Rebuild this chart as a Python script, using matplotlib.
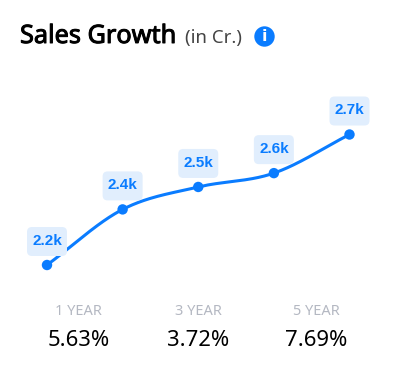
import numpy as np
import matplotlib
matplotlib.use("Agg")
import matplotlib.pyplot as plt
import matplotlib.patheffects as pe
from matplotlib.patches import FancyBboxPatch, Circle

periods = ["1 YEAR", "3 YEAR", "5 YEAR"]
growth = ["5.63%", "3.72%", "7.69%"]
sales = [2200, 2413, 2499, 2552, 2700]
labels = ["2.2k", "2.4k", "2.5k", "2.6k", "2.7k"]

W, H = 399, 380
BLUE = "#0A7CFF"
BOX = "#E1EEFD"
SANS = "Noto Sans"

fig = plt.figure(figsize=(W / 100, H / 100), dpi=100)
fig.patch.set_facecolor("white")


def px_rect(x0, y0, x1, y1):
    return [x0 / W, 1 - y1 / H, (x1 - x0) / W, (y1 - y0) / H]


ax = fig.add_axes(px_rect(47, 134.5, 349.5, 265))
ax.set_xlim(0, len(sales) - 1)
ax.set_ylim(min(sales), max(sales))
ax.axis("off")

# overlay in pixel coordinates for the page furniture
ov = fig.add_axes([0, 0, 1, 1], zorder=3)
ov.set_xlim(0, W)
ov.set_ylim(H, 0)
ov.axis("off")
ov.patch.set_alpha(0)

# monotone cubic through the data
xs = np.arange(len(sales), dtype=float)
ys = np.array(sales, dtype=float)
d = np.diff(ys)
m = np.r_[d[0], (d[:-1] + d[1:]) / 2, d[-1]]
xx, yy = [], []
for i in range(len(xs) - 1):
    t = np.linspace(0, 1, 40)
    h00 = 2 * t**3 - 3 * t**2 + 1
    h10 = t**3 - 2 * t**2 + t
    h01 = -2 * t**3 + 3 * t**2
    h11 = t**3 - t**2
    xx.append(xs[i] + t)
    yy.append(h00 * ys[i] + h10 * m[i] + h01 * ys[i + 1] + h11 * m[i + 1])
ax.plot(np.concatenate(xx), np.concatenate(yy), color=BLUE, lw=2.2,
        solid_capstyle="round", clip_on=False, zorder=2)

# value labels, then markers above them
fig.canvas.draw()
for x, y, lab in zip(xs, ys, labels):
    px, py = ov.transData.inverted().transform(ax.transData.transform((x, y)))
    ov.add_patch(FancyBboxPatch((px - 15, py - 33), 30, 19,
                                boxstyle="round,pad=5,rounding_size=5",
                                fc=BOX, ec="none", zorder=2))
    ov.text(px, py - 24, lab, color=BLUE, fontsize=11, fontweight="bold",
            family="Liberation Sans", ha="center", va="center", zorder=3)
    ov.add_patch(Circle((px, py), 5.2, fc=BLUE, ec="none", zorder=4))

# title
title = ov.text(20, 36.5, "Sales Growth", fontsize=18.2, family=SANS,
                color="black", ha="left", va="center")
title.set_path_effects([pe.withStroke(linewidth=0.7, foreground="black")])
ov.text(185, 38.5, "(in Cr.)", fontsize=13.4, family=SANS, color="#444444",
        ha="left", va="center")
ov.add_patch(Circle((264.5, 36.5), 10.2, fc=BLUE, ec="none"))
ov.text(264.5, 36.5, "i", fontsize=11.5, fontweight="bold", family="DejaVu Sans",
        color="white", ha="center", va="center")

# growth stats
for cx, p, g in zip([78.5, 198, 316.5], periods, growth):
    ov.text(cx, 311.5, p, fontsize=10.5, family=SANS, color="#B4B8C2",
            ha="center", va="center")
    ov.text(cx, 340.5, g, fontsize=15.9, family=SANS, color="black",
            ha="center", va="center")

fig.savefig("out.png", dpi=100)
